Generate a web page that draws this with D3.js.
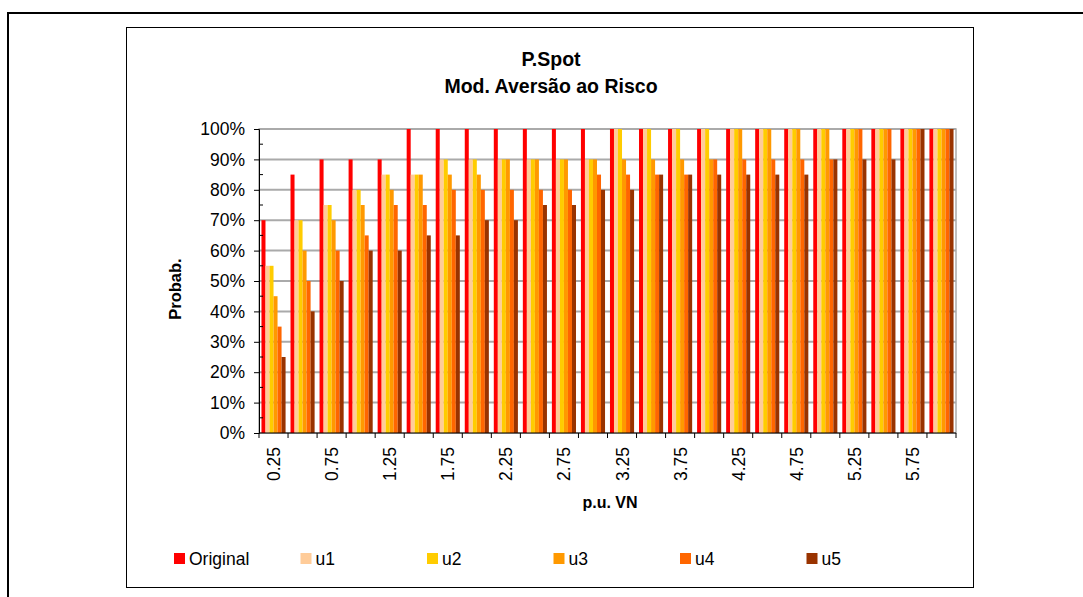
<!DOCTYPE html>
<html>
<head>
<meta charset="utf-8">
<script src="https://cdn.jsdelivr.net/npm/d3@7"></script>
<style>
  html, body { margin: 0; padding: 0; background: #fff; }
  svg { display: block; font-family: Arial, "Liberation Sans", sans-serif; }
</style>
</head>
<body>
<svg id="chart" width="1083" height="597"></svg>
<script>
// Categories (p.u. VN)
const categories = ["0.25","0.5","0.75","1","1.25","1.5","1.75","2","2.25","2.5","2.75","3",
                    "3.25","3.5","3.75","4","4.25","4.5","4.75","5","5.25","5.5","5.75","6"];
// Labels shown along the x axis
const tickLabels = ["0.25","0.75","1.25","1.75","2.25","2.75","3.25","3.75","4.25","4.75","5.25","5.75"];
const yTicks = [0,10,20,30,40,50,60,70,80,90,100];

// Probability (%) per series
const seriesNames = ["Original","u1","u2","u3","u4","u5"];
const original = [70,85,90,90,90,100,100,100,100,100,100,100,100,100,100,100,100,100,100,100,100,100,100,100];
const u1 = [55,70,75,80,85,85,90,90,90,90,90,90,100,100,100,100,100,100,100,100,100,100,100,100];
const u2 = [55,70,75,80,85,85,90,90,90,90,90,90,100,100,100,100,100,100,100,100,100,100,100,100];
const u3 = [45,60,70,75,80,85,85,85,90,90,90,90,90,90,90,90,100,100,100,100,100,100,100,100];
const u4 = [35,50,60,65,75,75,80,80,80,80,80,85,85,85,85,90,90,90,90,90,100,100,100,100];
const u5 = [25,40,50,60,60,65,65,70,70,75,75,80,80,85,85,85,85,85,85,90,90,90,100,100];
const seriesValues = [original, u1, u2, u3, u4, u5];
const colors = ["#FF0000","#FFCC99","#FFCC00","#FF9900","#FF6600","#993300"];

const svg = d3.select("#chart");

// frames
svg.append("rect").attr("x", 8).attr("y", 13).attr("width", 1100).attr("height", 620)
  .attr("fill", "none").attr("stroke", "#000").attr("stroke-width", 2);
svg.append("rect").attr("x", 126.5).attr("y", 27.5).attr("width", 847).attr("height", 560)
  .attr("fill", "#fff").attr("stroke", "#000").attr("stroke-width", 1);

const plot = { left: 259, right: 956, top: 129, bottom: 433 };

const x0 = d3.scaleBand().domain(categories).range([plot.left, plot.right]).paddingInner(0).paddingOuter(0);
const x1 = d3.scaleBand().domain(seriesNames)
  .range([x0.bandwidth() * 0.085, x0.bandwidth() * 0.915]).padding(0);
const y = d3.scaleLinear().domain([0, 100]).range([plot.bottom, plot.top]);

// plot area border + gridlines
svg.append("rect").attr("x", plot.left).attr("y", plot.top)
  .attr("width", plot.right - plot.left).attr("height", plot.bottom - plot.top)
  .attr("fill", "#fff").attr("stroke", "#aaa").attr("stroke-width", 1.5);
svg.append("g").selectAll("line").data(yTicks.slice(1)).join("line")
  .attr("x1", plot.left).attr("x2", plot.right)
  .attr("y1", d => y(d)).attr("y2", d => y(d))
  .attr("stroke", "#aaa").attr("stroke-width", 2);

// bars
const rows = categories.map((c, i) => ({ cat: c, vals: seriesNames.map((s, k) => ({ s, k, v: seriesValues[k][i] })) }));
svg.append("g").selectAll("g").data(rows).join("g")
  .attr("transform", d => `translate(${x0(d.cat)},0)`)
  .selectAll("rect").data(d => d.vals).join("rect")
  .attr("x", d => x1(d.s)).attr("width", x1.bandwidth())
  .attr("y", d => y(d.v)).attr("height", d => y(0) - y(d.v))
  .attr("fill", d => colors[d.k]);

// y axis
const yAxis = d3.axisLeft(y).tickValues(yTicks).tickFormat(d => d + "%").tickSize(5).tickPadding(9);
const gy = svg.append("g").attr("transform", `translate(${plot.left},0)`).call(yAxis);
gy.select(".domain").attr("stroke", "#000");
gy.selectAll(".tick line").attr("stroke", "#000");
gy.selectAll(".tick text").attr("font-size", 17.5).attr("fill", "#000")
  .attr("font-family", "Arial, 'Liberation Sans', sans-serif");
// minor ticks at 5% steps (inside)
svg.append("g").selectAll("line").data(d3.range(5, 100, 10)).join("line")
  .attr("x1", plot.left).attr("x2", plot.left + 4)
  .attr("y1", d => y(d)).attr("y2", d => y(d)).attr("stroke", "#000");

// x axis: ticks on category boundaries, labels on every other category
const gx = svg.append("g").attr("transform", `translate(0,${plot.bottom})`);
gx.append("line").attr("x1", plot.left).attr("x2", plot.right).attr("stroke", "#000");
gx.selectAll("line.tk").data(d3.range(categories.length + 1)).join("line").attr("class", "tk")
  .attr("x1", i => plot.left + i * x0.step()).attr("x2", i => plot.left + i * x0.step())
  .attr("y1", 0).attr("y2", 5).attr("stroke", "#000");
gx.selectAll("text").data(tickLabels).join("text")
  .attr("transform", d => `translate(${x0(d) + x0.bandwidth() / 2 + 6.5},14) rotate(-90)`)
  .attr("text-anchor", "end").attr("font-size", 17.5).attr("fill", "#000").text(d => d);

// titles
const title = svg.append("text").attr("text-anchor", "middle").attr("font-weight", "bold")
  .attr("font-size", 19.5).attr("fill", "#000");
title.append("tspan").attr("x", 551).attr("y", 66).text("P.Spot");
title.append("tspan").attr("x", 551).attr("y", 93).text("Mod. Aversão ao Risco");

svg.append("text").attr("x", 610).attr("y", 508).attr("text-anchor", "middle")
  .attr("font-weight", "bold").attr("font-size", 16).text("p.u. VN");
svg.append("text").attr("transform", `translate(181,289) rotate(-90)`).attr("text-anchor", "middle")
  .attr("font-weight", "bold").attr("font-size", 16.5).text("Probab.");

// legend
const lg = svg.append("g").selectAll("g").data(seriesNames).join("g")
  .attr("transform", (d, i) => `translate(${174 + i * 126.5},553)`);
lg.append("rect").attr("width", 11).attr("height", 11).attr("fill", (d, i) => colors[i]);
lg.append("text").attr("x", 15).attr("y", 11.5).attr("font-size", 17.5).text(d => d);
</script>
</body>
</html>
